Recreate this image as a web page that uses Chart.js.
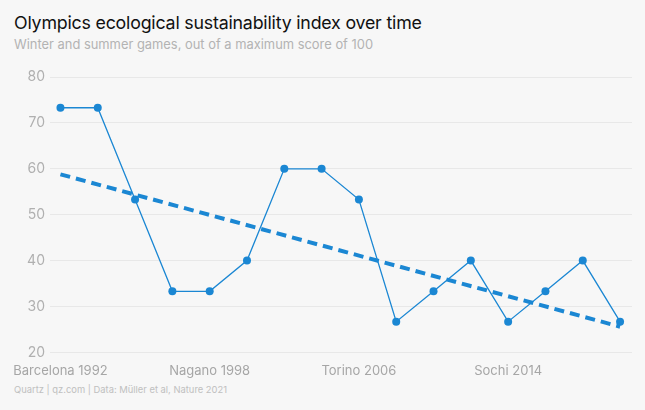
<!DOCTYPE html>
<html>
<head>
<meta charset="utf-8">
<script src="https://cdn.jsdelivr.net/npm/chart.js@4"></script>
<style>
  html, body { margin: 0; padding: 0; background: #f7f7f7; }
  body { width: 645px; height: 410px; position: relative; overflow: hidden; font-family: Inter, "Noto Sans", sans-serif; }
  #titulo { position: absolute; left: 14px; top: 12px; font-size: 17.8px; color: #111; letter-spacing: -0.2px; }
  #subtitulo { position: absolute; left: 14px; top: 37px; font-size: 12.9px; color: #b3b3b3; }
  #fuente { position: absolute; left: 14px; top: 384px; font-size: 9.4px; color: #c0c0c0; }
  #caja { position: absolute; left: 0; top: 60px; width: 645px; height: 322px; }
</style>
</head>
<body>
<div id="titulo">Olympics ecological sustainability index over time</div>
<div id="subtitulo">Winter and summer games, out of a maximum score of 100</div>
<div id="caja"><canvas id="myChart"></canvas></div>
<div id="fuente">Quartz | qz.com | Data: Müller et al, Nature 2021</div>
<script>
// Juegos olímpicos (invierno y verano)
const juegos = ['Barcelona 1992', 'Albertville 1992', 'Lillehammer 1994', 'Atlanta 1996',
  'Nagano 1998', 'Sydney 2000', 'Salt Lake City 2002', 'Athens 2004',
  'Torino 2006', 'Beijing 2008', 'Vancouver 2010', 'London 2012',
  'Sochi 2014', 'Rio 2016', 'PyeongChang 2018', 'Tokyo 2020'];
const indice = [73.3, 73.3, 53.3, 33.3, 33.3, 40, 60, 60, 53.3, 26.7, 33.3, 40, 26.7, 33.3, 40, 26.7];
// Línea de tendencia: solo extremos
const tendenciaInicio = 58.8;
const tendenciaFin = 25.6;
const etiquetasX = [0, 4, 8, 12];
const ticksY = [20, 30, 40, 50, 60, 70, 80];

const azul = '#1b87d3';

const ctx = document.getElementById('myChart').getContext('2d');
const myChart = new Chart(ctx, {
    type: 'line',
    data: {
        datasets: [{
            label: 'Índice',
            data: indice.map((v, i) => ({ x: i, y: v })),
            borderColor: azul,
            backgroundColor: azul,
            borderWidth: 1.3,
            pointRadius: 4,
            pointBorderWidth: 0,
            tension: 0
        }, {
            label: 'Tendencia',
            data: [{ x: 0, y: tendenciaInicio }, { x: juegos.length - 1, y: tendenciaFin }],
            borderColor: azul,
            borderWidth: 4,
            borderDash: [10, 6],
            pointRadius: 0,
            fill: false
        }]
    },
    options: {
        responsive: true,
        maintainAspectRatio: false,
        animation: false,
        layout: { padding: { left: 12, right: 13, top: 17, bottom: 0 } },
        plugins: {
            legend: { display: false },
            tooltip: { enabled: false }
        },
        scales: {
            x: {
                type: 'linear',
                min: -0.28,
                max: 15.32,
                grid: { display: false },
                border: { display: false },
                afterBuildTicks: axis => { axis.ticks = etiquetasX.map(v => ({ value: v })); },
                ticks: {
                    autoSkip: false,
                    maxRotation: 0,
                    padding: 3,
                    color: '#a6a6a6',
                    font: { family: 'Inter', size: 13 },
                    callback: v => juegos[v]
                }
            },
            y: {
                min: 20,
                max: 80,
                afterBuildTicks: axis => { axis.ticks = ticksY.map(v => ({ value: v })); },
                afterFit: axis => { axis.width = 38; },
                grid: { color: '#e8e8e8', drawTicks: false, lineWidth: 1 },
                border: { display: false },
                ticks: {
                    padding: 5,
                    color: '#b0b0b0',
                    font: { family: 'Inter', size: 14 }
                }
            }
        }
    }
});
</script>
</body>
</html>
